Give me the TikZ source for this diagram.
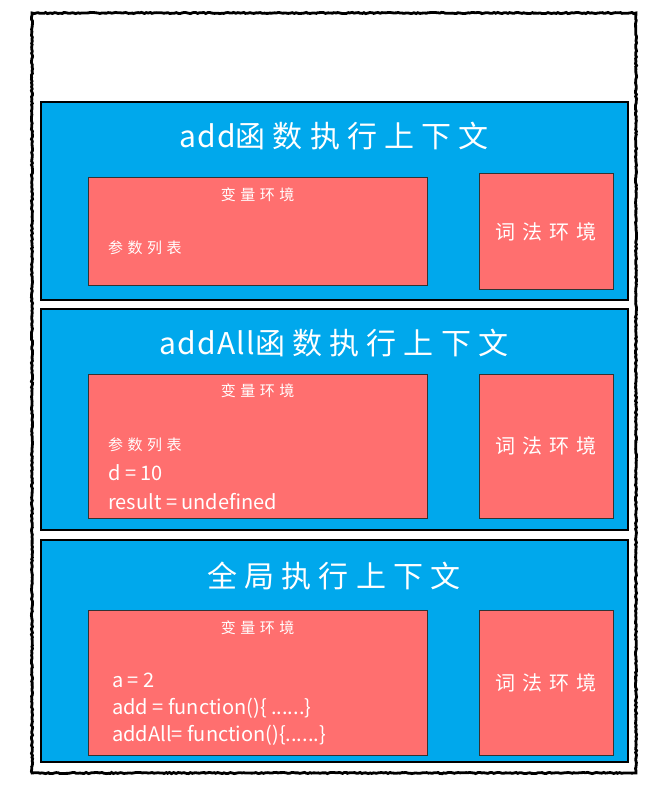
\documentclass[tikz,border=0pt]{standalone}
\usepackage{fontspec}
\setmainfont{Noto Sans CJK SC}
\usepackage{xcolor}
\usepackage{tikz}
\usetikzlibrary{positioning,decorations.pathmorphing}
\definecolor{ctxblue}{RGB}{0,168,236}
\definecolor{envred}{RGB}{255,111,111}
\newcommand{\widecjk}[1]{{\addfontfeature{LetterSpace=24}#1}}
\tikzset{
  stackframe/.style={draw=black,line width=2.8pt,fill=white,decorate,
    decoration={random steps,segment length=2pt,amplitude=0.6pt}},
  ctxbox/.style={rectangle,draw=black,line width=1.6pt,fill=ctxblue,
    minimum width=587pt,inner sep=0pt},
  envbox/.style={rectangle,draw=black!80,line width=1pt,fill=envred,inner sep=0pt},
  ctxtitle/.style={text=white,inner sep=0pt,
    font={\fontsize{30}{32}\selectfont\addfontfeature{LetterSpace=4}}},
  envtitle/.style={text=white,inner sep=0pt,
    font={\fontsize{15}{17}\selectfont\addfontfeature{LetterSpace=30}}},
  lextitle/.style={text=white,inner sep=0pt,
    font={\fontsize{20}{22}\selectfont\addfontfeature{LetterSpace=35}}},
  envline/.style={text=white,anchor=west,inner sep=0pt,
    font={\fontsize{20}{22}\selectfont}},
  paramline/.style={envline,font={\fontsize{15}{17}\selectfont\addfontfeature{LetterSpace=30}}}
}

\begin{document}
\begin{tikzpicture}[x=1pt,y=-1pt]
  \useasboundingbox (0,0) rectangle (656,802);
  \draw[stackframe] (32,13) rectangle (636,773);
  \node[ctxbox,minimum height=198pt] (ctxadd)    at (334.5,201) {};
  \node[ctxbox,minimum height=221pt] (ctxaddall) at (334.5,419.5) {};
  \node[ctxbox,minimum height=222pt] (ctxglobal) at (334.5,651) {};
  \node[ctxtitle] (titleadd)    at (334,136) {add\widecjk{函数执行上下文}};
  \node[ctxtitle] (titleaddall) at (334,343) {addAll\widecjk{函数执行上下文}};
  \node[ctxtitle] (titleglobal) at (334,576) {\widecjk{全局执行上下文}};
  \node[envbox,minimum width=339pt,minimum height=107pt] (varadd)    at (257.5,231.5) {};
  \node[envbox,minimum width=339pt,minimum height=144pt] (varaddall) at (257.5,446) {};
  \node[envbox,minimum width=339pt,minimum height=145pt] (varglobal) at (257.5,682.5) {};
  \node[envbox,minimum width=134pt,minimum height=115pt] (lexadd)    at (546,231.5) {};
  \node[envbox,minimum width=134pt,minimum height=144pt] (lexaddall) at (546,446) {};
  \node[envbox,minimum width=134pt,minimum height=145pt] (lexglobal) at (546,682.5) {};
  \node[envtitle] (vtadd)    at (257.5,195) {变量环境};
  \node[envtitle] (vtaddall) at (257.5,391) {变量环境};
  \node[envtitle] (vtglobal) at (257.5,628) {变量环境};
  \node[lextitle] (ltadd)    at (lexadd)    {词法环境};
  \node[lextitle] (ltaddall) at (lexaddall) {词法环境};
  \node[lextitle] (ltglobal) at (lexglobal) {词法环境};
  \node[paramline] (argsadd)    at (108,248) {参数列表};
  \node[paramline] (argsaddall) at (108,445) {参数列表};
  \node[envline] (vard)      at (108,473) {d = 10};
  \node[envline] (varresult) at (108,502) {result = undefined};
  \node[envline] (vara)      at (112,680) {a = 2};
  \node[envline] (varaddfn)  at (112,708) {add = function()\{ ......\}};
  \node[envline] (varallfn)  at (112,735) {addAll= function()\{......\}};
\end{tikzpicture}
\end{document}
